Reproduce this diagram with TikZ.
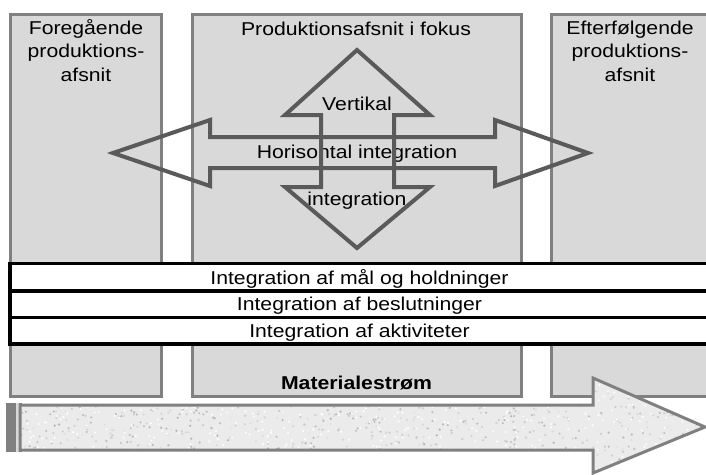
\documentclass[tikz,border=0pt]{standalone}
\usepackage{fontspec}
\setmainfont{Liberation Sans}[FakeStretch=1.14]
\definecolor{boxfill}{HTML}{D9D9D9}
\definecolor{boxline}{HTML}{808080}
\definecolor{arrline}{HTML}{5A5A5A}
\definecolor{flowfill}{HTML}{EBEBEB}
\begin{document}
\begin{tikzpicture}[x=1pt,y=-1pt,
  sect/.style={fill=boxfill,draw=boxline,line width=3pt},
  band/.style={fill=white,draw=black,line width=3.5pt},
  lbl/.style={inner sep=0pt,anchor=base,font=\fontsize{18.6}{23.3}\selectfont},
  intarrow/.style={draw=arrline,line width=4pt,line join=miter},
  flow/.style={draw=boxline,line width=3pt,fill=flowfill}]
\useasboundingbox (0,0) rectangle (706,474);
% production sections
\draw[sect] (10.5,14) rectangle (161,396);
\draw[sect] (192.5,14) rectangle (521,396);
\draw[sect] (551.5,14) rectangle (730,396);
% integration bands
\draw[band] (10,263.5) rectangle (730,291);
\draw[band] (10,291) rectangle (730,317.5);
\draw[band] (10,317.5) rectangle (730,344);
% texts
\node[lbl,align=center] (prev) at (86,81) {Foregående\\produktions-\\afsnit};
\node[lbl] (focus) at (356,35) {Produktionsafsnit i fokus};
\node[lbl,align=center] (next) at (630,81) {Efterfølgende\\produktions-\\afsnit};
\node[lbl] (vert) at (357,110) {Vertikal};
\node[lbl] (hor) at (357,158) {Horisontal integration};
\node[lbl] (vint) at (357,205) {integration};
\node[lbl] (b1) at (359.5,284) {Integration af mål og holdninger};
\node[lbl] (b2) at (359.5,310) {Integration af beslutninger};
\node[lbl] (b3) at (359.5,337) {Integration af aktiviteter};
% integration arrows
\draw[intarrow] (113,153) -- (210,120) -- (210,137) -- (495,137) -- (495,120)
  -- (588,153) -- (495,186) -- (495,168) -- (210,168) -- (210,186) -- cycle;
\draw[intarrow] (357,50) -- (430,115) -- (394,115) -- (394,187) -- (430,187)
  -- (357,248) -- (285,187) -- (321,187) -- (321,115) -- (285,115) -- cycle;
% material flow arrow
\fill[boxline] (6,403) rectangle (16,452);
\fill[black!15] (16,403) rectangle (18.5,452);
\fill[boxline] (18.5,403) rectangle (22,452);
\begin{scope}
\path[clip] (20,405) -- (593,405) -- (593,378) -- (705,427) -- (593,474) -- (593,450) -- (20,450) -- cycle;
\fill[flowfill] (0,370) rectangle (706,474);
\pgfmathsetseed{7}
\foreach \i in {1,...,900} {
  \pgfmathsetmacro{\rx}{20+rnd*686}
  \pgfmathsetmacro{\ry}{376+rnd*98}
  \pgfmathsetmacro{\rg}{10+rnd*20}
  \fill[black!\rg] (\rx,\ry) circle (1.2pt);
}
\foreach \i in {1,...,500} {
  \pgfmathsetmacro{\rx}{20+rnd*686}
  \pgfmathsetmacro{\ry}{376+rnd*98}
  \fill[white] (\rx,\ry) circle (1.1pt);
}
\end{scope}
\draw[draw=boxline,line width=3pt,line join=miter] (20,405) -- (593,405) -- (593,378) -- (705,427) -- (593,473) -- (593,450) -- (20,450) -- cycle;
\node[lbl,font=\fontsize{18.6}{23.3}\selectfont\bfseries] (mat) at (356.5,389) {Materialestrøm};
\end{tikzpicture}
\end{document}
